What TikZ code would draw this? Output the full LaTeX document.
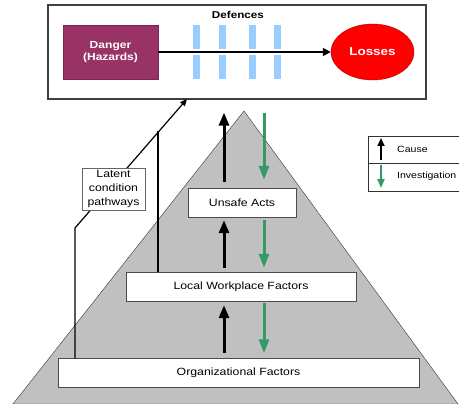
\documentclass[tikz,border=0pt]{standalone}
\usepackage{fontspec}
\setmainfont{Liberation Sans}[FakeStretch=1.17]
\usetikzlibrary{arrows.meta,shapes.geometric}
\definecolor{hazard}{HTML}{993366}
\definecolor{defbar}{HTML}{99CCFF}
\definecolor{invgreen}{HTML}{339966}
\definecolor{pyrgray}{HTML}{C0C0C0}
\begin{document}
\begin{tikzpicture}[x=1pt, y=-1pt,
    level/.style={draw=black!70, fill=white, inner sep=0pt, minimum height=29pt, font=\fontsize{10.5}{12}\selectfont},
    cause/.style={line width=3pt, -{Triangle[length=13pt,width=10pt]}},
    invest/.style={invgreen, line width=3pt, -{Triangle[length=14pt,width=10pt]}},
    pathway/.style={line width=1.2pt}]
\useasboundingbox (0,0) rectangle (459,404);
% top box
\node[draw=black!75, line width=1.2pt, minimum width=378pt, minimum height=94pt, inner sep=0pt] (top) at (237,52) {};
\node[font=\bfseries\fontsize{10}{12}\selectfont] (defences) at (238,15) {Defences};
\node[fill=hazard, draw=hazard!80!black, text=white, align=center, inner sep=0pt,
      font=\bfseries\fontsize{10.3}{12.5}\selectfont, minimum width=95pt, minimum height=54pt] (danger) at (110.5,52) {Danger\\(Hazards)};
\node[ellipse, fill=red, draw=red!70!black, text=white, inner sep=0pt,
      font=\bfseries\fontsize{11.5}{13}\selectfont, minimum width=83pt, minimum height=56pt] (losses) at (372.5,52) {Losses};
\foreach \bx in {196.5,222.5,252.5,277.5}{
  \fill[defbar] (\bx-3.5,25) rectangle (\bx+3.5,49);
  \fill[defbar] (\bx-3.5,55) rectangle (\bx+3.5,79);
}
\draw[line width=1.5pt, -{Triangle[length=8pt,width=8pt]}] (danger) -- (losses);

% pyramid
\filldraw[fill=pyrgray, draw=black!80] (244,111) -- (13,404) -- (458,404) -- cycle;
\node[level, minimum width=108pt] (unsafe) at (242,202.5) {Unsafe Acts};
\node[level, minimum width=230pt] (local) at (241,286.5) {Local Workplace Factors};
\node[level, minimum width=361pt] (org) at (238.5,373) {Organizational Factors};

% latent condition pathways
\coordinate (bend) at (75,228);
\coordinate (hit) at (187,99);
\coordinate (join) at (158,131);
\draw[pathway, -{Triangle[length=7pt,width=6pt]}] (org.north -| bend) -- (bend) -- (hit);
\draw[pathway] (local.north -| join) -- (join);
\node[draw=black!60, fill=white, align=center, inner sep=0pt, font=\fontsize{10.5}{14}\selectfont,
      minimum width=63pt, minimum height=42pt] (latent) at (113.5,189) {Latent\\condition\\pathways};

% cause / investigation
\coordinate (cx) at (224,0);
\coordinate (ix) at (264,0);
\draw[cause, shorten <=6pt, shorten >=13pt] (unsafe.north -| cx) -- (top.south -| cx);
\draw[invest, shorten <=13pt, shorten >=8pt] (top.south -| ix) -- (unsafe.north -| ix);
\draw[cause, shorten <=4pt, shorten >=3pt] (local.north -| cx) -- (unsafe.south -| cx);
\draw[invest, shorten <=3pt, shorten >=4pt] (unsafe.south -| ix) -- (local.north -| ix);
\draw[cause, shorten <=5pt, shorten >=4pt] (org.north -| cx) -- (local.south -| cx);
\draw[invest, shorten <=2pt, shorten >=5pt] (local.south -| ix) -- (org.north -| ix);

% legend
\draw[black!80] (459,136) -- (368,136) -- (368,191) -- (459,191) (368,163) -- (459,163);
\node[anchor=west, inner sep=0pt, font=\fontsize{9}{11}\selectfont] (causelbl) at (397,149) {Cause};
\node[anchor=west, inner sep=0pt, font=\fontsize{9}{11}\selectfont] (invlbl) at (397,176) {Investigation};
\draw[line width=2pt, -{Triangle[length=8pt,width=7pt]}] (381,160) -- (381,138);
\draw[invgreen, line width=2pt, -{Triangle[length=9pt,width=7pt]}] (381,165) -- (381,188);
\end{tikzpicture}
\end{document}
